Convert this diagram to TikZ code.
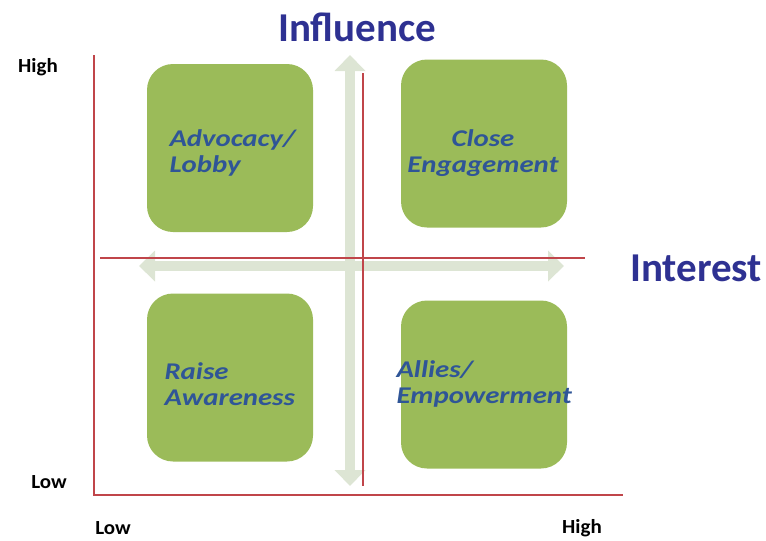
\documentclass[tikz,border=0pt]{standalone}
\usepackage{fontspec}
\setmainfont{Carlito}
\newfontfamily\quadfont[FakeStretch=1.2]{Carlito}
\newfontfamily\axisfont[FakeStretch=1.05]{Carlito}
\usetikzlibrary{arrows.meta}

\definecolor{boxgreen}{HTML}{9BBB59}
\definecolor{quadblue}{HTML}{2F5597}
\definecolor{titleblue}{HTML}{2E3192}
\definecolor{gridred}{HTML}{C0454A}
\definecolor{paleaxis}{HTML}{DDE5D4}

\tikzset{
  quadbox/.style={rectangle,rounded corners=26pt,fill=boxgreen,
                  minimum width=166pt,minimum height=168pt},
  quadtext/.style={anchor=west,align=left,text=quadblue,
                   font=\quadfont\bfseries\itshape\fontsize{24}{26}\selectfont},
  axistitle/.style={text=titleblue,font=\bfseries\fontsize{41}{44}\selectfont},
  scalelabel/.style={font=\axisfont\bfseries\fontsize{20}{22}\selectfont},
  redline/.style={draw=gridred,line width=1.8pt},
  paleaxis/.style={draw=paleaxis,line width=10pt,
                   {Triangle[width=30pt,length=16pt]}-{Triangle[width=30pt,length=16pt]}}
}

\begin{document}
\begin{tikzpicture}[x=1pt,y=-1pt]
  \useasboundingbox (0,0) rectangle (766,541);

  % quadrants
  \node[quadbox] (advocacy) at (230,148) {};
  \node[quadbox] (close)    at (484,143.5) {};
  \node[quadbox] (raise)    at (230,377.5) {};
  \node[quadbox] (allies)   at (484,384.5) {};

  % pale double arrows behind the grid
  \coordinate (inftop) at (350,55);
  \coordinate (infbot) at (350,486);
  \coordinate (intleft) at (139,266);
  \coordinate (intright) at (564,266);
  \draw[paleaxis] (inftop) -- (infbot);
  \draw[paleaxis] (intleft) -- (intright);

  % red axes and cross
  \coordinate (origin) at (94,495);
  \coordinate (ytop) at (94,55);
  \coordinate (xend) at (623,495);
  \coordinate (midtop) at (363,73);
  \coordinate (midbot) at (363,486);
  \coordinate (midleft) at (100,258);
  \coordinate (midright) at (585,258);
  \draw[redline] (ytop) -- (origin) -- (xend);
  \draw[redline] (midtop) -- (midbot);
  \draw[redline] (midleft) -- (midright);

  % labels
  \node[quadtext] (advtext)   at (166,153) {Advocacy/\\Lobby};
  \node[quadtext,align=center,anchor=center] (closetext) at (483,153) {Close\\Engagement};
  \node[quadtext] (raisetext) at (161,384) {Raise\\Awareness};
  \node[quadtext] (alltext)   at (393,384) {Allies/\\Empowerment};

  \node[axistitle] (influence) at (357,27) {Influence};
  \node[axistitle] (interest)  at (696,268) {Interest};

  \node[scalelabel] (yhigh) at (38,67) {High};
  \node[scalelabel] (ylow)  at (49,482) {Low};
  \node[scalelabel] (xlow)  at (113,528) {Low};
  \node[scalelabel] (xhigh) at (582,528) {High};
\end{tikzpicture}
\end{document}
